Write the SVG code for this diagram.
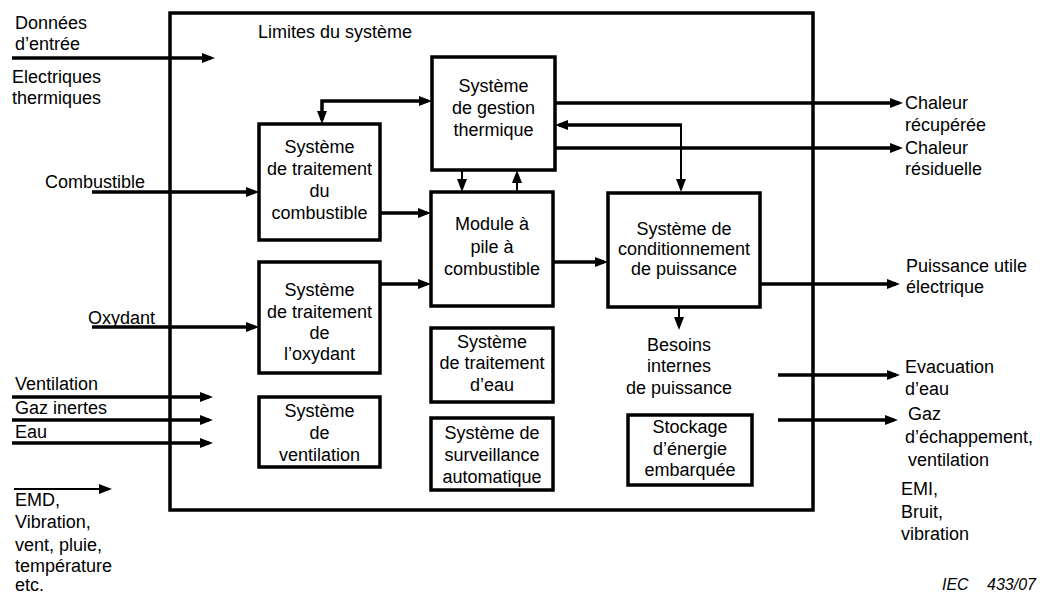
<svg xmlns="http://www.w3.org/2000/svg" width="1040" height="594" viewBox="0 0 1040 594">
<style>
text{font-family:"Liberation Sans",Arial,sans-serif;font-size:18px;fill:#000}
.c{text-anchor:middle}
.box{fill:#fff;stroke:#000;stroke-width:3.5}
.w{fill:none;stroke:#000;stroke-width:3.5}
.t{fill:none;stroke:#000;stroke-width:2}
.iec{font-style:italic;font-size:16px}
</style>
<defs>
<marker id="a" markerUnits="userSpaceOnUse" markerWidth="13" markerHeight="10" refX="9" refY="5" orient="auto"><path d="M0,0L13,5L0,10z" fill="#000"/></marker>
<marker id="as" markerUnits="userSpaceOnUse" markerWidth="13" markerHeight="10" refX="9" refY="5" orient="auto-start-reverse"><path d="M0,0L13,5L0,10z" fill="#000"/></marker>
</defs>
<rect id="boundary" x="170" y="13" width="643" height="497" fill="none" stroke="#000" stroke-width="3.5"/>
<text x="258" y="38">Limites du système</text>
<g id="connectors">
<line class="w" x1="12" y1="58" x2="211" y2="58" marker-end="url(#a)"/>
<line class="w" x1="92" y1="192" x2="255" y2="192" marker-end="url(#a)"/>
<line class="w" x1="92" y1="327" x2="255" y2="327" marker-end="url(#a)"/>
<line class="w" x1="12" y1="397" x2="209" y2="397" marker-end="url(#a)"/>
<line class="w" x1="12" y1="420" x2="209" y2="420" marker-end="url(#a)"/>
<line class="w" x1="12" y1="443" x2="209" y2="443" marker-end="url(#a)"/>
<line class="t" x1="14" y1="489" x2="108" y2="489" marker-end="url(#a)"/>
<path class="w" d="M322,120V101H428" marker-start="url(#as)" marker-end="url(#a)"/>
<line class="w" x1="380" y1="213" x2="427" y2="213" marker-end="url(#a)"/>
<line class="w" x1="380" y1="284" x2="427" y2="284" marker-end="url(#a)"/>
<line class="t" x1="462" y1="170" x2="462" y2="188" marker-end="url(#a)"/>
<line class="t" x1="517" y1="192" x2="517" y2="174" marker-end="url(#a)"/>
<line class="w" x1="553" y1="262" x2="604" y2="262" marker-end="url(#a)"/>
<line class="w" x1="555" y1="103" x2="899" y2="103" marker-end="url(#a)"/>
<line class="w" x1="555" y1="148" x2="899" y2="148" marker-end="url(#a)"/>
<line class="w" x1="682" y1="125" x2="559" y2="125" marker-end="url(#a)"/>
<line class="t" x1="681" y1="125" x2="681" y2="188" marker-end="url(#a)"/>
<line class="t" x1="679" y1="307" x2="679" y2="326" marker-end="url(#a)"/>
<line class="w" x1="757" y1="284" x2="896" y2="284" marker-end="url(#a)"/>
<line class="w" x1="778" y1="375" x2="896" y2="375" marker-end="url(#a)"/>
<line class="w" x1="778" y1="420" x2="894" y2="420" marker-end="url(#a)"/>
</g>
<g id="gestion"><rect class="box" x="432" y="57" width="123" height="113"/>
<text class="c" x="493.5" y="92">Système</text><text class="c" x="493.5" y="114">de gestion</text><text class="c" x="493.5" y="136">thermique</text></g>
<g id="traitement-combustible"><rect class="box" x="259" y="124" width="121" height="116"/>
<text class="c" x="319.5" y="153">Système</text><text class="c" x="319.5" y="175">de traitement</text><text class="c" x="319.5" y="197">du</text><text class="c" x="319.5" y="219">combustible</text></g>
<g id="module"><rect class="box" x="431" y="192" width="122" height="114"/>
<text class="c" x="492" y="230">Module à</text><text class="c" x="492" y="253">pile à</text><text class="c" x="492" y="275">combustible</text></g>
<g id="conditionnement"><rect class="box" x="608" y="193" width="152" height="114"/>
<text class="c" x="684" y="235">Système de</text><text class="c" x="684" y="255">conditionnement</text><text class="c" x="684" y="275">de puissance</text></g>
<g id="traitement-oxydant"><rect class="box" x="259" y="262" width="121" height="111"/>
<text class="c" x="319.5" y="296">Système</text><text class="c" x="319.5" y="318">de traitement</text><text class="c" x="319.5" y="339">de</text><text class="c" x="319.5" y="360">l’oxydant</text></g>
<g id="traitement-eau"><rect class="box" x="431" y="328" width="122" height="74"/>
<text class="c" x="492" y="348">Système</text><text class="c" x="492" y="369">de traitement</text><text class="c" x="492" y="391">d’eau</text></g>
<g id="ventilation"><rect class="box" x="259" y="397" width="121" height="70"/>
<text class="c" x="319.5" y="417">Système</text><text class="c" x="319.5" y="439">de</text><text class="c" x="319.5" y="461">ventilation</text></g>
<g id="surveillance"><rect class="box" x="431" y="418" width="122" height="72"/>
<text class="c" x="492" y="439">Système de</text><text class="c" x="492" y="461">surveillance</text><text class="c" x="492" y="483">automatique</text></g>
<g id="stockage"><rect class="box" x="628" y="415" width="124" height="70"/>
<text class="c" x="690" y="433">Stockage</text><text class="c" x="690" y="455">d’énergie</text><text class="c" x="690" y="476">embarquée</text></g>
<g id="besoins"><text class="c" x="679" y="351">Besoins</text><text class="c" x="679" y="372">internes</text><text class="c" x="679" y="394">de puissance</text></g>
<g id="labels-left">
<text x="15" y="29">Données</text><text x="15" y="50">d’entrée</text>
<text x="12" y="83">Electriques</text><text x="12" y="104">thermiques</text>
<text x="45" y="188">Combustible</text>
<text x="88" y="324">Oxydant</text>
<text x="15" y="390">Ventilation</text><text x="15" y="414">Gaz inertes</text><text x="15" y="438">Eau</text>
<text x="15" y="506">EMD,</text><text x="15" y="528">Vibration,</text><text x="15" y="551">vent, pluie,</text><text x="15" y="572">température</text><text x="15" y="591">etc.</text>
</g>
<g id="labels-right">
<text x="905" y="109">Chaleur</text><text x="905" y="131">récupérée</text>
<text x="905" y="154">Chaleur</text><text x="905" y="175">résiduelle</text>
<text x="906" y="272">Puissance utile</text><text x="906" y="293">électrique</text>
<text x="905" y="373">Evacuation</text><text x="905" y="395">d’eau</text>
<text x="908" y="420">Gaz</text><text x="905" y="443">d’échappement,</text><text x="908" y="466">ventilation</text>
<text x="901" y="495">EMI,</text><text x="901" y="518">Bruit,</text><text x="901" y="540">vibration</text>
<text class="iec" x="942" y="590">IEC</text><text class="iec" x="987" y="590">433/07</text>
</g>
</svg>
